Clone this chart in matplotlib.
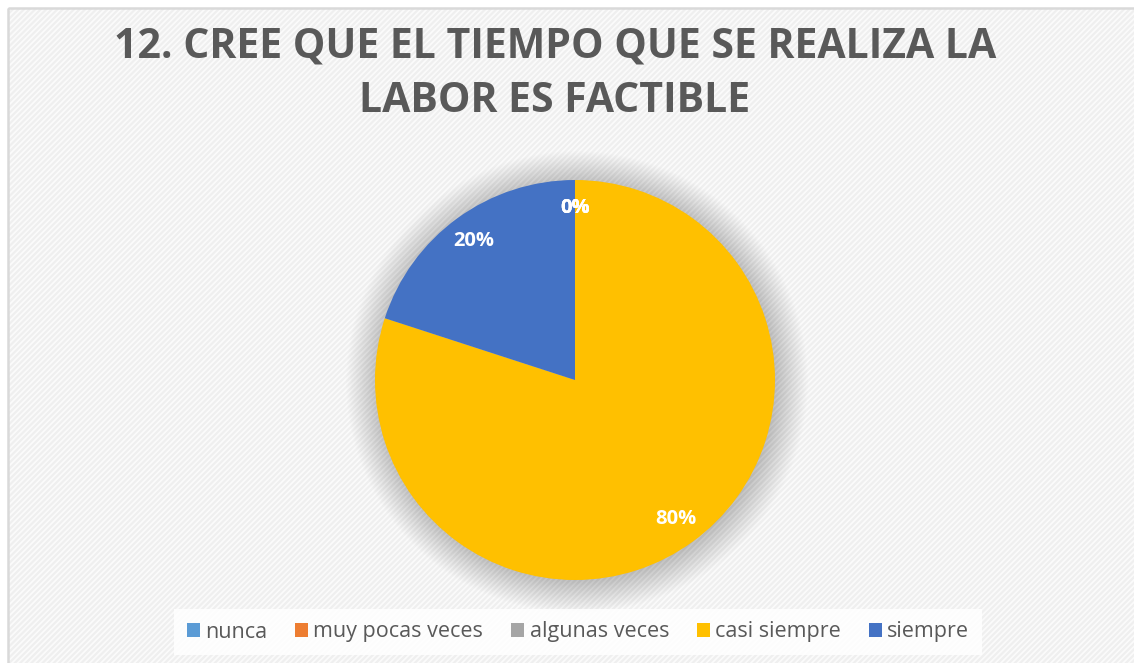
import matplotlib
matplotlib.use("Agg")
import matplotlib.pyplot as plt
from matplotlib.patches import Rectangle, Circle

plt.rcParams['font.family'] = ['Open Sans', 'DejaVu Sans']
plt.rcParams['hatch.linewidth'] = 1.6

# data
categories = ["nunca", "muy pocas veces", "algunas veces", "casi siempre", "siempre"]
values = [0, 0, 0, 80, 20]
colors = ["#5B9BD5", "#ED7D31", "#A5A5A5", "#FFC000", "#4472C4"]
title = "12. CREE QUE EL TIEMPO QUE SE REALIZA LA\nLABOR ES FACTIBLE"

W, H = 1134, 663
fig = plt.figure(figsize=(W / 100, H / 100), dpi=100)
fig.patch.set_facecolor("white")

# background axes in pixel-like coords: hatched chart area, border cropped right/bottom
bg = fig.add_axes([0, 0, 1, 1], zorder=-1)
bg.set_xlim(0, W)
bg.set_ylim(H, 0)
bg.axis("off")
bg.add_patch(Rectangle((8, 8), W + 20, H + 20, facecolor="#fbfbfb", edgecolor="#efefef",
                       linewidth=0, hatch="//////"))
bg.add_patch(Rectangle((8, 8), W + 20, H + 20, facecolor="none", edgecolor="#d9d9d9",
                       linewidth=1.8))

# pie axes: center (575, 380) px, radius 200 px
r_px = 200
half = 1.25
cx, cy = 575, 380
ax = fig.add_axes([(cx - r_px * half) / W, (H - cy - r_px * half) / H,
                   2 * r_px * half / W, 2 * r_px * half / H])
ax.axis("off")

# soft shadow
for i in range(30):
    ax.add_patch(Circle((0.01, -0.01), 0.98 + 0.006 * i, facecolor="#000000",
                        edgecolor="none", alpha=0.009, zorder=1))

wedges, texts, autotexts = ax.pie(
    values, colors=colors, startangle=90, counterclock=False,
    autopct="%1.0f%%", pctdistance=0.86, radius=1.0,
    wedgeprops=dict(linewidth=0),
    textprops=dict(color="white", fontsize=14.5, fontweight="bold"),
)
for w in wedges:
    w.set_zorder(2)
for t in autotexts:
    t.set_zorder(3)
ax.set_xlim(-half, half)
ax.set_ylim(-half, half)
ax.set_aspect("equal")

fig.text(555 / W, 1 - 74 / H, title, ha="center", va="center",
         fontsize=29.5, fontweight="bold", color="#595959", linespacing=1.45)

handles = [Rectangle((0, 0), 1, 1, facecolor=c, edgecolor="none") for c in colors]
leg = fig.legend(handles, categories, loc="center", bbox_to_anchor=(578 / W, 1 - 632 / H),
                 ncol=5, frameon=True, fontsize=15.5, handlelength=0.6, handleheight=0.6,
                 handletextpad=0.25, columnspacing=1.3, borderpad=0.6)
leg.get_frame().set_facecolor("white")
leg.get_frame().set_alpha(0.85)
leg.get_frame().set_edgecolor("none")
leg.get_frame().set_boxstyle("square", pad=0)
for t in leg.get_texts():
    t.set_color("#595959")

fig.savefig("out.png", dpi=100)
